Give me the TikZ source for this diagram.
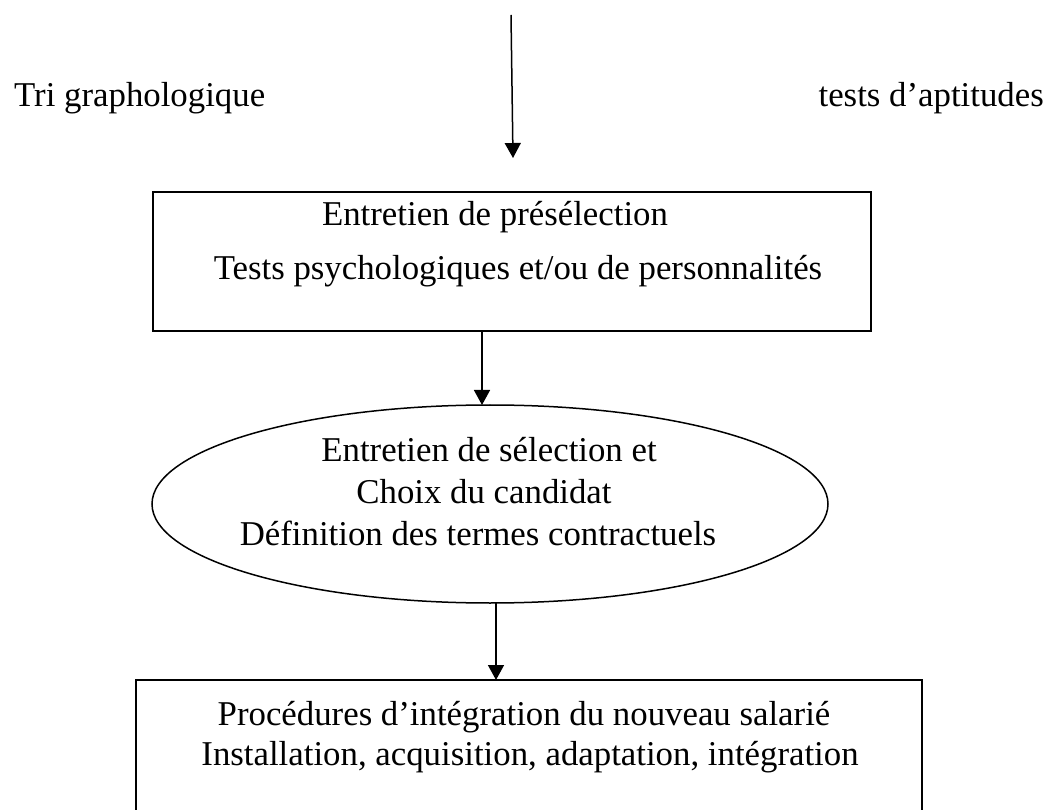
\documentclass[tikz,border=0pt]{standalone}
\usepackage{fontspec}
\setmainfont{Liberation Serif}
\usetikzlibrary{arrows.meta,shapes.geometric}
\tikzset{
  lbl/.style={font=\fontsize{34.8}{40}\selectfont, inner sep=0pt, anchor=base},
  flow/.style={line width=1.5pt, -{Triangle[length=15pt,width=16pt]}},
  frame/.style={draw, line width=2pt}
}
\begin{document}
\begin{tikzpicture}[x=1pt,y=-1pt]
\useasboundingbox (0,0) rectangle (1053,810);
\begin{scope}
\clip (0,0) rectangle (1053,810);

% side labels
\node[lbl, anchor=base west] (tri) at (14,107) {Tri graphologique};
\node[lbl, anchor=base east] (apt) at (1044,107) {tests d’aptitudes};

% incoming arrow
\coordinate (in) at (511,15);
\coordinate (intip) at (513,158);

% first stage: preselection
\draw[frame] (153,192) rectangle (871,331);
\coordinate (b1out) at (482,331);
\node[lbl] (pre1) at (495,226) {Entretien de présélection};
\node[lbl] (pre2) at (518,280) {Tests psychologiques et/ou de personnalités};

% second stage: selection
\node[draw, line width=1.5pt, ellipse, minimum width=676pt, minimum height=198pt, inner sep=0pt] (sel) at (490,504) {};
\node[lbl] (sel1) at (489,461) {Entretien de sélection et};
\node[lbl] (sel2) at (484,503) {Choix du candidat};
\node[lbl] (sel3) at (478,545) {Définition des termes contractuels};
\coordinate (selin) at (482,405);
\coordinate (selout) at (496,603);

% third stage: integration
\draw[frame] (136,680) rectangle (922,900);
\coordinate (b2in) at (496,680);
\node[lbl] (int1) at (524,725) {Procédures d’intégration du nouveau salarié};
\node[lbl] (int2) at (530,765) {Installation, acquisition, adaptation, intégration};

% connectors
\draw[flow] (in) -- (intip);
\draw[flow] (b1out) -- (selin);
\draw[flow] (selout) -- (b2in);
\end{scope}
\end{tikzpicture}
\end{document}
